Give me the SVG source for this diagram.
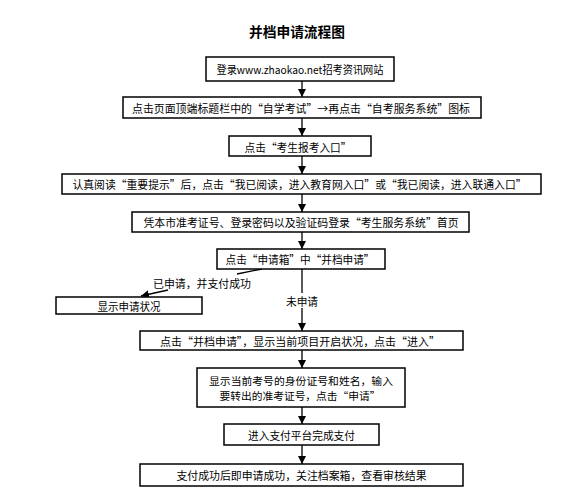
<svg xmlns="http://www.w3.org/2000/svg" width="580" height="502" viewBox="0 0 580 502">
<style>
.bx{fill:#fff;stroke:#000;stroke-width:1.5}
.t{font-family:"Noto Sans CJK SC","Liberation Sans",sans-serif;font-size:11px;fill:#000;text-anchor:middle;dominant-baseline:central}
.t2{font-size:10.5px}
.ttl{font-family:"Noto Sans CJK SC","Liberation Sans",sans-serif;font-size:14px;font-weight:bold;fill:#000;text-anchor:middle;dominant-baseline:central}
.ln{stroke:#000;stroke-width:1.3;fill:none}
</style>
<defs>
<marker id="ah" markerUnits="userSpaceOnUse" markerWidth="8" markerHeight="8" refX="8" refY="4" orient="auto">
<path d="M0,0 L8,4 L0,8 Z" fill="#000"/>
</marker>
</defs>
<rect width="580" height="502" fill="#fff"/>
<text class="ttl" x="297" y="31" textLength="96" lengthAdjust="spacingAndGlyphs">并档申请流程图</text>

<g id="connectors">
<line class="ln" x1="302" y1="81" x2="302" y2="97" marker-end="url(#ah)"/>
<line class="ln" x1="302" y1="118" x2="302" y2="136" marker-end="url(#ah)"/>
<line class="ln" x1="302" y1="156" x2="302" y2="174" marker-end="url(#ah)"/>
<line class="ln" x1="302" y1="194" x2="302" y2="212" marker-end="url(#ah)"/>
<line class="ln" x1="302" y1="232" x2="302" y2="249" marker-end="url(#ah)"/>
<line class="ln" x1="302" y1="269" x2="302" y2="293"/>
<line class="ln" x1="302" y1="308" x2="302" y2="331" marker-end="url(#ah)"/>
<line class="ln" x1="302" y1="350" x2="302" y2="368" marker-end="url(#ah)"/>
<line class="ln" x1="302" y1="407" x2="302" y2="424" marker-end="url(#ah)"/>
<line class="ln" x1="302" y1="445" x2="302" y2="464" marker-end="url(#ah)"/>
<line class="ln" x1="262" y1="269" x2="237" y2="274"/>
<line class="ln" x1="168" y1="290" x2="141" y2="296" marker-end="url(#ah)"/>
<text class="t" x="202" y="283" textLength="98" lengthAdjust="spacingAndGlyphs">已申请，并支付成功</text>
<text class="t" x="302" y="301" textLength="32" lengthAdjust="spacingAndGlyphs">未申请</text>
</g>

<g id="n1"><rect class="bx" x="206" y="57" width="188" height="24"/><text class="t" x="300" y="68.5" textLength="167" lengthAdjust="spacingAndGlyphs">登录www.zhaokao.net招考资讯网站</text></g>
<g id="n2"><rect class="bx" x="123" y="97" width="358" height="21"/><text class="t" x="301" y="107.7" textLength="338" lengthAdjust="spacingAndGlyphs">点击页面顶端标题栏中的“自学考试”→再点击“自考服务系统”图标</text></g>
<g id="n3"><rect class="bx" x="229" y="136" width="142" height="20"/><text class="t" x="298" y="146.5" textLength="107" lengthAdjust="spacingAndGlyphs">点击“考生报考入口”</text></g>
<g id="n4"><rect class="bx" x="62" y="174" width="479" height="20"/><text class="t" x="299.5" y="184.3" textLength="454" lengthAdjust="spacingAndGlyphs">认真阅读“重要提示”后，点击“我已阅读，进入教育网入口”或“我已阅读，进入联通入口”</text></g>
<g id="n5"><rect class="bx" x="132" y="212" width="337" height="20"/><text class="t" x="301" y="222.3" textLength="315" lengthAdjust="spacingAndGlyphs">凭本市准考证号、登录密码以及验证码登录“考生服务系统”首页</text></g>
<g id="n6"><rect class="bx" x="217" y="249" width="168" height="20"/><text class="t" x="300" y="259" textLength="149" lengthAdjust="spacingAndGlyphs">点击“申请箱”中“并档申请”</text></g>
<g id="n_status"><rect class="bx" x="56" y="297" width="146" height="17"/><text class="t" x="129" y="305.7" textLength="63" lengthAdjust="spacingAndGlyphs">显示申请状况</text></g>
<g id="n7"><rect class="bx" x="140" y="331" width="323" height="19"/><text class="t" x="300" y="340.5" textLength="280" lengthAdjust="spacingAndGlyphs">点击“并档申请”，显示当前项目开启状况，点击“进入”</text></g>
<g id="n8"><rect class="bx" x="197" y="368" width="208" height="39"/><text class="t t2" x="301" y="380" textLength="184" lengthAdjust="spacingAndGlyphs">显示当前考号的身份证号和姓名，输入</text><text class="t t2" x="300" y="395" textLength="161" lengthAdjust="spacingAndGlyphs">要转出的准考证号，点击“申请”</text></g>
<g id="n9"><rect class="bx" x="224" y="424" width="155" height="21"/><text class="t" x="301.5" y="434.5" textLength="107" lengthAdjust="spacingAndGlyphs">进入支付平台完成支付</text></g>
<g id="n10"><rect class="bx" x="140" y="464" width="323" height="22"/><text class="t" x="301.5" y="475" textLength="250" lengthAdjust="spacingAndGlyphs">支付成功后即申请成功，关注档案箱，查看审核结果</text></g>
</svg>
